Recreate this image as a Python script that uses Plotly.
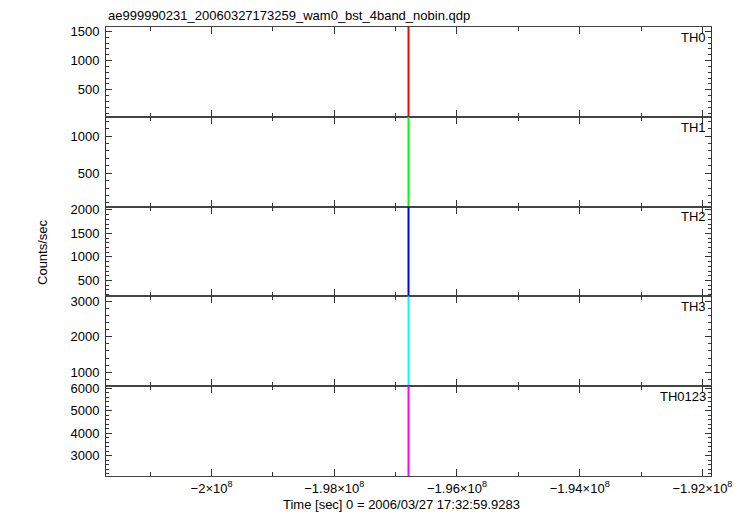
import plotly.graph_objects as go
from plotly.subplots import make_subplots

# Data: a burst that collapses to a single pixel column
time = [-196790040, -196790020, -196790000, -196789980, -196789960, -196789940]
th0 = [20, 1600, 400, 1200, 150, 900]
th1 = [30, 1280, 300, 900, 120, 700]
th2 = [140, 2090, 600, 1700, 300, 1100]
th3 = [580, 3180, 1200, 2800, 800, 2000]
th0123 = [2050, 6100, 3000, 5500, 2500, 4500]

bands = ["TH0", "TH1", "TH2", "TH3", "TH0123"]
series = [th0, th1, th2, th3, th0123]
colors = ["#ff0000", "#00ff00", "#0000ff", "#00ffff", "#ff00ff"]
y_ranges = [[35, 1575], [50, 1260], [160, 2070], [600, 3150], [2100, 6080]]
y_ticks = [[500, 1000, 1500], [500, 1000], [500, 1000, 1500, 2000],
           [1000, 2000, 3000], [3000, 4000, 5000, 6000]]
y_minor = [100, 100, 100, 200, 200]

x_range = [-2.0172e8, -1.9186e8]
x_tickvals = [-2.0e8, -1.98e8, -1.96e8, -1.94e8, -1.92e8]
x_minorvals = [-2.01e8, -1.99e8, -1.97e8, -1.95e8, -1.93e8]
x_ticktext = ["\u22122\u00d710<sup>8</sup>", "\u22121.98\u00d710<sup>8</sup>",
              "\u22121.96\u00d710<sup>8</sup>", "\u22121.94\u00d710<sup>8</sup>",
              "\u22121.92\u00d710<sup>8</sup>"]

font_family = "Liberation Sans, Arial, Helvetica, sans-serif"

fig = make_subplots(rows=5, cols=1, shared_xaxes=True, vertical_spacing=0)

for i, (name, ys, col) in enumerate(zip(bands, series, colors)):
    r = i + 1
    fig.add_trace(go.Scatter(x=time, y=ys, mode="lines", name=name,
                             line=dict(color=col, width=2), showlegend=False),
                  row=r, col=1)
    fig.update_yaxes(row=r, col=1, range=y_ranges[i], tickvals=y_ticks[i],
                     ticks="inside", ticklen=6, tickwidth=1, tickcolor="#333",
                     showline=True, linecolor="#333", linewidth=1, mirror="ticks",
                     showgrid=False, zeroline=False, automargin=False,
                     ticklabelstandoff=3, ticklabeloverflow="allow",
                     minor=dict(dtick=y_minor[i], ticks="inside", ticklen=3,
                                tickcolor="#333", showgrid=False),
                     tickfont=dict(family=font_family, size=13, color="black"))
    fig.update_xaxes(row=r, col=1, range=x_range, tickvals=x_tickvals,
                     ticktext=x_ticktext, showticklabels=(r == 5),
                     ticks="inside", ticklen=7, tickwidth=1, tickcolor="#333",
                     showline=True, linecolor="#444", linewidth=1, mirror="ticks",
                     showgrid=False, zeroline=False, automargin=False,
                     ticklabeloverflow="allow",
                     minor=dict(tickvals=x_minorvals,
                                ticks="inside", ticklen=4, tickcolor="#333",
                                showgrid=False),
                     tickfont=dict(family=font_family, size=13, color="black"))
    yref = "y domain" if r == 1 else f"y{r} domain"
    xref = "x domain" if r == 1 else f"x{r} domain"
    fig.add_annotation(text=name, xref=xref, yref=yref, x=0.995, y=0.99,
                       xanchor="right", yanchor="top", showarrow=False,
                       font=dict(family=font_family, size=13, color="black"))

fig.add_annotation(text="Time [sec] 0 = 2006/03/27 17:32:59.9283",
                   xref="paper", yref="paper", x=0.488, y=0, yshift=-28,
                   xanchor="center", yanchor="middle", showarrow=False,
                   font=dict(family=font_family, size=13, color="black"))

fig.add_annotation(text="Counts/sec", xref="paper", yref="paper", x=-0.105, y=0.5,
                   textangle=-90, showarrow=False, xanchor="center", yanchor="middle",
                   font=dict(family=font_family, size=13, color="black"))

fig.add_annotation(text="ae999990231_20060327173259_wam0_bst_4band_nobin.qdp",
                   xref="paper", yref="paper", x=0, y=1.0, yshift=2,
                   xanchor="left", yanchor="bottom", showarrow=False,
                   font=dict(family=font_family, size=13, color="black"))

fig.update_layout(width=748, height=508, plot_bgcolor="white", paper_bgcolor="white",
                  margin=dict(l=98, r=45, t=19, b=40, autoexpand=False),
                  showlegend=False)

fig.write_html("out.html")
